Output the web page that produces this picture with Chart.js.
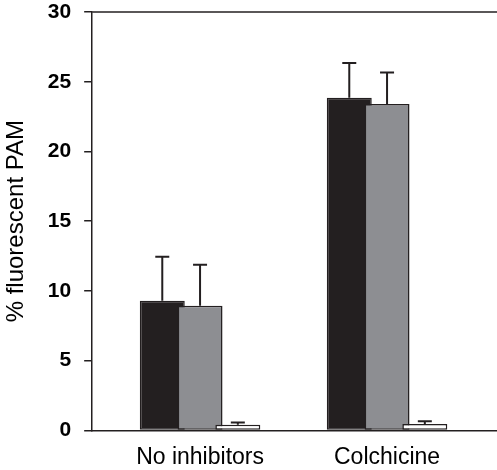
<!DOCTYPE html>
<html>
<head>
<meta charset="utf-8">
<script src="https://cdn.jsdelivr.net/npm/chart.js@4"></script>
<style>
  html, body { margin: 0; padding: 0; background: #fff; }
  #wrap { width: 497px; height: 470px; }
</style>
</head>
<body>
<div id="wrap"><canvas id="grafica" width="497" height="470"></canvas></div>
<script>
// valores
const categorias = ['No inhibitors', 'Colchicine'];
const serieNegra = [9.3, 23.85];
const serieGris = [8.93, 23.4];
const serieBlanca = [0.4, 0.45];
const errorNegra = [3.15, 2.5];
const errorGris = [2.94, 2.26];
const errorBlanca = [0.17, 0.2];
const marcasY = [0, 5, 10, 15, 20, 25, 30];

const tinta = '#231f20';

function puntos(valores) {
    return valores.map((v, i) => ({ x: i + 1, y: v }));
}

// barras de error (solo hacia arriba, con tope)
function dibujarErrores(chart) {
    const ctx = chart.ctx;
    const escalaY = chart.scales.y;
    const errores = [errorNegra, errorGris, errorBlanca];
    ctx.save();
    ctx.strokeStyle = tinta;
    ctx.lineWidth = 2;
    chart.data.datasets.forEach((ds, d) => {
        const meta = chart.getDatasetMeta(d);
        meta.data.forEach((barra, i) => {
            const yTope = escalaY.getPixelForValue(ds.data[i].y + errores[d][i]);
            ctx.beginPath();
            ctx.moveTo(barra.x, barra.y);
            ctx.lineTo(barra.x, yTope);
            ctx.moveTo(barra.x - 7, yTope);
            ctx.lineTo(barra.x + 7, yTope);
            ctx.stroke();
        });
    });
    ctx.restore();
}

const ordenDibujo = {
    id: 'ordenDibujo',
    beforeDatasetsDraw(chart) {
        // la primera serie queda debajo, como en la figura
        chart.getSortedVisibleDatasetMetas().forEach(m => m.controller.draw());
        dibujarErrores(chart);
        return false;
    },
    afterDraw(chart) {
        const a = chart.chartArea;
        const ctx = chart.ctx;
        ctx.save();
        ctx.strokeStyle = tinta;
        ctx.lineWidth = 1.5;
        ctx.beginPath();
        ctx.moveTo(a.left, a.top);
        ctx.lineTo(chart.width, a.top);
        ctx.stroke();
        ctx.restore();
    }
};

new Chart(document.getElementById('grafica'), {
    type: 'bar',
    data: {
        datasets: [
            { data: puntos(serieNegra), backgroundColor: '#231f20' },
            { data: puntos(serieGris), backgroundColor: '#8d8e92' },
            { data: puntos(serieBlanca), backgroundColor: '#ffffff' }
        ].map(ds => Object.assign(ds, {
            borderColor: tinta,
            borderWidth: 1.5,
            borderSkipped: false,
            categoryPercentage: 0.606,
            barPercentage: 1.19
        }))
    },
    plugins: [ordenDibujo],
    options: {
        responsive: false,
        devicePixelRatio: 1,
        animation: false,
        layout: { padding: { left: 0, right: 0, top: 0, bottom: -14 } },
        plugins: {
            legend: { display: false },
            tooltip: { enabled: false }
        },
        scales: {
            x: {
                type: 'linear',
                min: 0.423,
                max: 2.588,
                offset: false,
                afterBuildTicks: escala => {
                    escala.ticks = categorias.map((c, i) => ({ value: i + 1 }));
                },
                ticks: {
                    callback: v => categorias[v - 1],
                    color: '#000',
                    font: { family: 'Liberation Sans', size: 23 },
                    padding: 13,
                    maxRotation: 0
                },
                grid: { display: false, drawTicks: false },
                border: { display: true, color: tinta, width: 1.5 }
            },
            y: {
                min: 0,
                max: 30,
                afterBuildTicks: escala => {
                    escala.ticks = marcasY.map(v => ({ value: v }));
                },
                afterFit: escala => {
                    escala.paddingTop = 12;
                    escala.paddingBottom = 12;
                },
                ticks: {
                    color: '#000',
                    font: { family: 'Liberation Sans', size: 21, weight: 'bold' },
                    padding: 13
                },
                grid: {
                    drawOnChartArea: false,
                    drawTicks: true,
                    tickLength: 8,
                    color: tinta,
                    lineWidth: 1.5
                },
                border: { display: true, color: tinta, width: 1.5 },
                title: {
                    display: true,
                    text: '% fluorescent PAM',
                    color: '#000',
                    font: { family: 'Liberation Sans', size: 24 },
                    padding: { top: 2, bottom: 4 }
                }
            }
        }
    }
});
</script>
</body>
</html>
